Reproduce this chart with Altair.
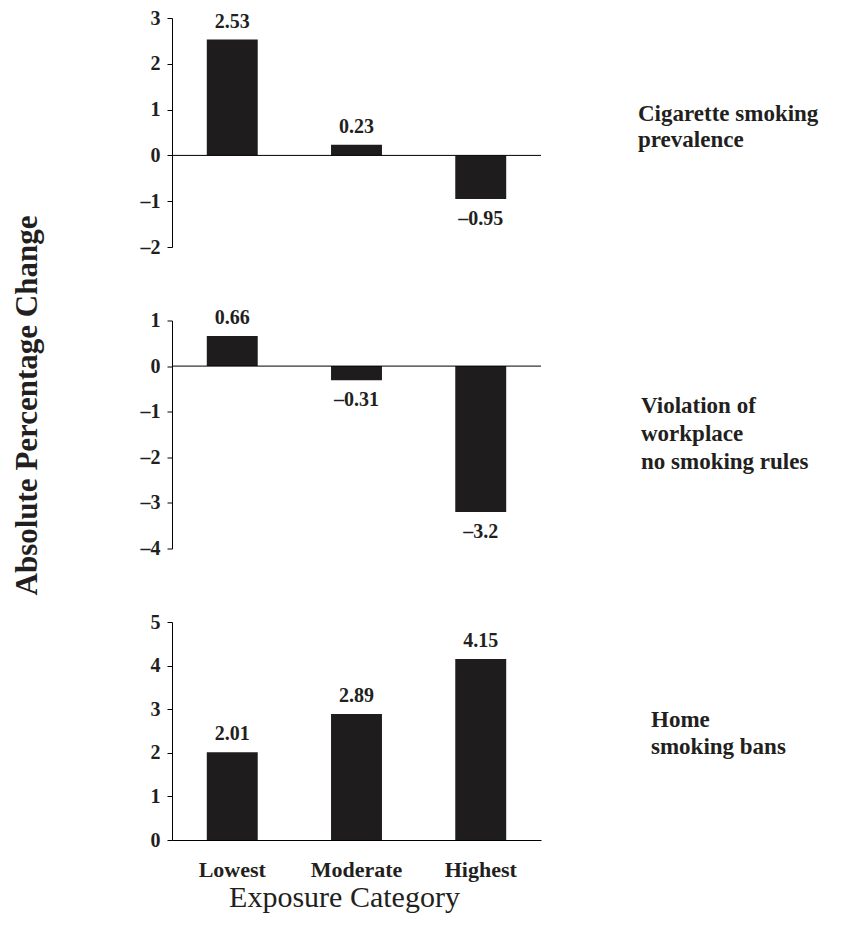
import altair as alt
import pandas as pd

categories = ["Lowest", "Moderate", "Highest"]
smoking_prevalence = [2.53, 0.23, -0.95]
workplace_violation = [0.66, -0.31, -3.2]
home_bans = [2.01, 2.89, 4.15]
panel_labels = [
    ["Cigarette smoking", "prevalence"],
    ["Violation of", "workplace", "no smoking rules"],
    ["Home", "smoking bans"],
]
domains = [[-2, 3], [-4, 1], [0, 5]]
y_title = "Absolute Percentage Change"
x_title = "Exposure Category"

FONT = "Liberation Serif"
INK = "#231f20"
BAR = "#1e1c1c"
W = 369


def panel(values, domain, label_lines, height, label_x, label_y, line_h,
          bottom=False, with_ytitle=False):
    df = pd.DataFrame({
        "cat": categories,
        "val": values,
        "lbl": [f"{v:g}".replace("-", "\u2013") for v in values],
    })
    if bottom:
        xaxis = alt.Axis(
            title=x_title, labelAngle=0, ticks=False, domainColor="black",
            labelFont=FONT, labelFontWeight="bold", labelFontSize=22,
            labelColor=INK, labelPadding=19,
            titleFont=FONT, titleFontWeight="normal", titleFontSize=30,
            titleColor=INK, titlePadding=2, titleX=172,
        )
    else:
        xaxis = None
    xenc = alt.X("cat:N", sort=categories,
                 scale=alt.Scale(paddingInner=0.59, paddingOuter=0.28),
                 axis=xaxis)
    yscale = alt.Scale(domain=domain, nice=False, zero=False)
    yaxis = alt.Axis(
        values=list(range(domain[0], domain[1] + 1)), title=None, grid=False,
        domainColor="black", tickColor="black", tickSize=5,
        labelFont=FONT, labelFontWeight="bold", labelFontSize=20,
        labelColor=INK, labelPadding=7,
        labelExpr="replace(datum.label, '\u2212', '\u2013')",
    )
    base = alt.Chart(df)
    bars = base.mark_bar(color=BAR).encode(
        x=xenc, y=alt.Y("val:Q", scale=yscale, axis=yaxis)
    )
    txt_kw = dict(font=FONT, fontWeight="bold", fontSize=20, color=INK,
                  baseline="alphabetic")
    pos = base.transform_filter("datum.val >= 0").mark_text(dy=-12, **txt_kw).encode(
        x=alt.X("cat:N", sort=categories), y=alt.Y("val:Q", scale=yscale), text="lbl:N"
    )
    neg = base.transform_filter("datum.val < 0").mark_text(dy=26, **txt_kw).encode(
        x=alt.X("cat:N", sort=categories), y=alt.Y("val:Q", scale=yscale), text="lbl:N"
    )
    side = alt.Chart(alt.Data(values=[{"k": 0}])).mark_text(
        text=label_lines, align="left", baseline="alphabetic", lineHeight=line_h,
        font=FONT, fontWeight="bold", fontSize=23, color=INK,
    ).encode(x=alt.value(label_x), y=alt.value(label_y))
    layers = [bars, pos, neg, side]
    if not bottom:
        zero = alt.Chart(alt.Data(values=[{"z": 0}])).mark_rule(
            color="black", strokeWidth=1
        ).encode(y=alt.Y("z:Q", scale=yscale))
        layers.insert(1, zero)
    if with_ytitle:
        yt = alt.Chart(alt.Data(values=[{"k": 0}])).mark_text(
            text=y_title, angle=270, align="center", baseline="middle",
            font=FONT, fontWeight="bold", fontSize=31, color=INK,
        ).encode(x=alt.value(-144), y=alt.value(85))
        layers.append(yt)
    return alt.layer(*layers).properties(width=W, height=height)


p1 = panel(smoking_prevalence, domains[0], panel_labels[0], 229, 466, 103, 26)
p2 = panel(workplace_violation, domains[1], panel_labels[1], 228, 469, 92, 28,
           with_ytitle=True)
p3 = panel(home_bans, domains[2], panel_labels[2], 218, 479, 105, 27, bottom=True)

chart = alt.vconcat(p1, p2, p3, spacing=73.5, bounds="flush").properties(
    padding={"left": 3, "top": 0, "right": 5, "bottom": 5}
).configure_view(stroke=None).configure_axis(grid=False)

chart.save("out.html", embed_options={"renderer": "svg", "actions": False})
